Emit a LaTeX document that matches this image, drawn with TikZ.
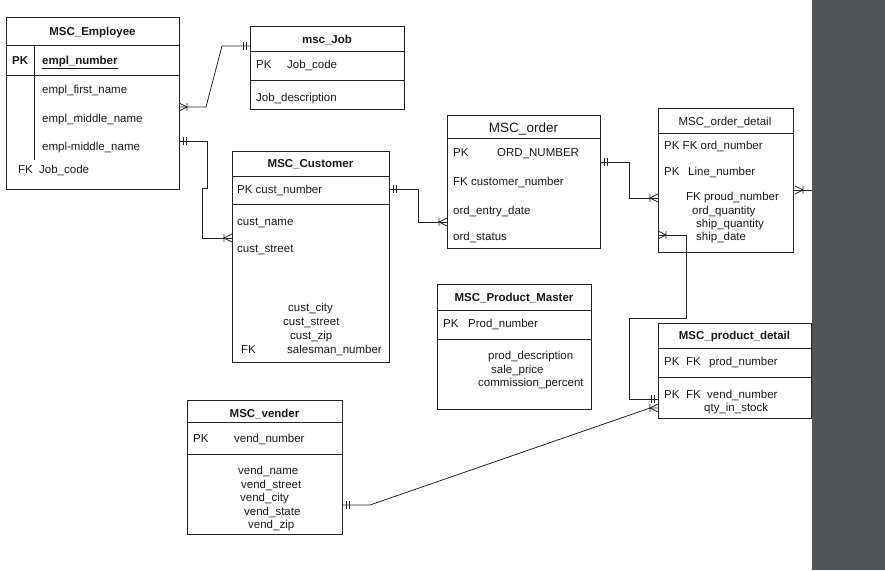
\documentclass[tikz,border=0pt]{standalone}
\usepackage{fontspec}
\setmainfont{Liberation Sans}
\definecolor{lc}{RGB}{35,35,35}
\definecolor{tc}{RGB}{25,25,25}
\definecolor{panel}{RGB}{82,86,89}
\begin{document}
\begin{tikzpicture}[x=1pt,y=-1pt,
  ent/.style={draw=lc, line width=0.9pt, inner sep=0pt, outer sep=0pt, anchor=north west},
  sepl/.style={draw=lc, line width=0.9pt},
  conn/.style={draw=lc, line width=0.8pt},
  txt/.style={anchor=base west, inner sep=0pt, font=\fontsize{11.5}{13}\selectfont, text=tc},
  ttl/.style={anchor=base, inner sep=0pt, font=\fontsize{11.5}{13}\selectfont\bfseries, text=tc},
  ttlr/.style={anchor=base, inner sep=0pt, font=\fontsize{11.5}{13}\selectfont, text=tc},
  ttlbig/.style={anchor=base, inner sep=0pt, font=\fontsize{13.5}{15}\selectfont, text=tc},
  manyR/.pic={\draw[conn] (0,-4)--(8,0)--(0,4) (8,-4)--(8,4);},
  manyL/.pic={\draw[conn] (0,-4)--(-8,0)--(0,4) (-8,-4)--(-8,4);},
  oneR/.pic={\draw[conn] (4,-4)--(4,4) (7,-4)--(7,4);},
  oneL/.pic={\draw[conn] (-4,-4)--(-4,4) (-7,-4)--(-7,4);}
]
\useasboundingbox (0,0) rectangle (885,570);
\fill[white] (0,0) rectangle (885,570);
\fill[panel] (812,0) rectangle (885,570);

% ---------- MSC_Employee ----------
\node[ent, minimum width=173pt, minimum height=172pt] (emp) at (6,17) {};
\draw[sepl] (emp.west |- 0,45) -- (emp.east |- 0,45);
\draw[sepl] (emp.west |- 0,75) -- (emp.east |- 0,75);
\draw[sepl] (34,45) -- (34,160);
\node[ttl] (empT) at (92.5,35) {MSC\_Employee};
\node[txt, font=\fontsize{11.5}{13}\selectfont\bfseries] (empPK) at (12,64) {PK};
\node[txt, font=\fontsize{11.5}{13}\selectfont\bfseries] (empA0) at (42,64) {\underline{empl\_number}};
\node[txt] (empA1) at (42,93) {empl\_first\_name};
\node[txt] (empA2) at (42,122) {empl\_middle\_name};
\node[txt] (empA3) at (42,150) {empl-middle\_name};
\node[txt] (empFK) at (18,173) {FK};
\node[txt] (empA4) at (39,173) {Job\_code};

% ---------- msc_Job ----------
\node[ent, minimum width=154pt, minimum height=83pt] (job) at (250,26) {};
\draw[sepl] (job.west |- 0,51) -- (job.east |- 0,51);
\draw[sepl] (job.west |- 0,80) -- (job.east |- 0,80);
\node[ttl] (jobT) at (327,43) {msc\_Job};
\node[txt] (jobPK) at (256,68) {PK};
\node[txt] (jobA0) at (287,68) {Job\_code};
\node[txt] (jobA1) at (256,101) {Job\_description};

% ---------- MSC_Customer ----------
\node[ent, minimum width=157pt, minimum height=211pt] (cus) at (232,151) {};
\draw[sepl] (cus.west |- 0,176) -- (cus.east |- 0,176);
\draw[sepl] (cus.west |- 0,204) -- (cus.east |- 0,204);
\node[ttl] (cusT) at (310.5,167) {MSC\_Customer};
\node[txt] (cusA0) at (237,193) {PK cust\_number};
\node[txt] (cusA1) at (237,225) {cust\_name};
\node[txt] (cusA2) at (237,252) {cust\_street};
\node[txt] (cusA3) at (288,311) {cust\_city};
\node[txt] (cusA4) at (283,325) {cust\_street};
\node[txt] (cusA5) at (290,339) {cust\_zip};
\node[txt] (cusFK) at (241,353) {FK};
\node[txt] (cusA6) at (287,353) {salesman\_number};

% ---------- MSC_order ----------
\node[ent, minimum width=153pt, minimum height=133pt] (ord) at (447,115) {};
\draw[sepl] (ord.west |- 0,138) -- (ord.east |- 0,138);
\node[ttlbig] (ordT) at (523.5,132) {MSC\_order};
\node[txt] (ordPK) at (453,156) {PK};
\node[txt] (ordA0) at (497,156) {ORD\_NUMBER};
\node[txt] (ordA1) at (453,185) {FK customer\_number};
\node[txt] (ordA2) at (453,214) {ord\_entry\_date};
\node[txt] (ordA3) at (453,240) {ord\_status};

% ---------- MSC_order_detail ----------
\node[ent, minimum width=135pt, minimum height=144pt] (odt) at (658,108) {};
\draw[sepl] (odt.west |- 0,133) -- (odt.east |- 0,133);
\node[ttlr] (odtT) at (725,125) {MSC\_order\_detail};
\node[txt] (odtA0) at (664,149) {PK FK ord\_number};
\node[txt] (odtPK) at (664,175) {PK};
\node[txt] (odtA1) at (688,175) {Line\_number};
\node[txt] (odtA2) at (686,200) {FK proud\_number};
\node[txt] (odtA3) at (692,214) {ord\_quantity};
\node[txt] (odtA4) at (696,227) {ship\_quantity};
\node[txt] (odtA5) at (696,240) {ship\_date};

% ---------- MSC_Product_Master ----------
\node[ent, minimum width=154pt, minimum height=125pt] (pm) at (437,284) {};
\draw[sepl] (pm.west |- 0,310) -- (pm.east |- 0,310);
\draw[sepl] (pm.west |- 0,339) -- (pm.east |- 0,339);
\node[ttl] (pmT) at (514,301) {MSC\_Product\_Master};
\node[txt] (pmPK) at (443,327) {PK};
\node[txt] (pmA0) at (468,327) {Prod\_number};
\node[txt] (pmA1) at (488,359) {prod\_description};
\node[txt] (pmA2) at (491,373) {sale\_price};
\node[txt] (pmA3) at (478,386) {commission\_percent};

% ---------- MSC_product_detail ----------
\node[ent, minimum width=153pt, minimum height=95pt] (pd) at (658,323) {};
\draw[sepl] (pd.west |- 0,348) -- (pd.east |- 0,348);
\draw[sepl] (pd.west |- 0,377) -- (pd.east |- 0,377);
\node[ttl] (pdT) at (734.5,339) {MSC\_product\_detail};
\node[txt] (pdPK1) at (664,365) {PK};
\node[txt] (pdFK1) at (686,365) {FK};
\node[txt] (pdA0) at (709,365) {prod\_number};
\node[txt] (pdPK2) at (664,398) {PK};
\node[txt] (pdFK2) at (686,398) {FK};
\node[txt] (pdA1) at (707,398) {vend\_number};
\node[txt] (pdA2) at (704,411) {qty\_in\_stock};

% ---------- MSC_vender ----------
\node[ent, minimum width=155pt, minimum height=134pt] (ven) at (187,400) {};
\draw[sepl] (ven.west |- 0,422) -- (ven.east |- 0,422);
\draw[sepl] (ven.west |- 0,454) -- (ven.east |- 0,454);
\node[ttl] (venT) at (264.5,417) {MSC\_vender};
\node[txt] (venPK) at (193,442) {PK};
\node[txt] (venA0) at (234,442) {vend\_number};
\node[txt] (venA1) at (238,474) {vend\_name};
\node[txt] (venA2) at (241,488) {vend\_street};
\node[txt] (venA3) at (240,501) {vend\_city};
\node[txt] (venA4) at (244,515) {vend\_state};
\node[txt] (venA5) at (248,528) {vend\_zip};

% ---------- connector end points ----------
\coordinate (c1a) at (emp.east |- 0,107);
\coordinate (c1b) at (job.west |- 0,46);
\coordinate (c2a) at (emp.east |- 0,141);
\coordinate (c2b) at (cus.west |- 0,238);
\coordinate (c3a) at (cus.east |- 0,189);
\coordinate (c3b) at (ord.west |- 0,222);
\coordinate (c4a) at (ord.east |- 0,162);
\coordinate (c4b) at (odt.west |- 0,198);
\coordinate (c5a) at (odt.west |- 0,235);
\coordinate (c5b) at (pd.west |- 0,399);
\coordinate (c6a) at (ven.east |- 0,505);
\coordinate (c6b) at (pd.west |- 0,408);
\coordinate (c7a) at (odt.east |- 0,190);
\coordinate (c7b) at (812,190);

% ---------- connectors ----------
\draw[conn] (c1a) -- (206,107) -- (222,46) -- (c1b);
\pic at (c1a) {manyR}; \pic at (c1b) {oneL};

\draw[conn] (c2a) -- (207,141) -- (207,188) -- (202,188) -- (202,238) -- (c2b);
\pic at (c2a) {oneR}; \pic at (c2b) {manyL};

\draw[conn] (c3a) -- (418,189) -- (418,222) -- (c3b);
\pic at (c3a) {oneR}; \pic at (c3b) {manyL};

\draw[conn] (c4a) -- (629,162) -- (629,198) -- (c4b);
\pic at (c4a) {oneR}; \pic at (c4b) {manyL};

\draw[conn] (c5a) -- (686,235) -- (686,318) -- (629,318) -- (629,399) -- (c5b);
\pic at (c5a) {manyR}; \pic at (c5b) {oneL};

\draw[conn] (c6a) -- (370,505) -- (650,408) -- (c6b);
\pic at (c6a) {oneR}; \pic at (c6b) {manyL};

\draw[conn] (c7a) -- (c7b);
\pic at ([xshift=2pt]c7a) {manyR};
\end{tikzpicture}
\end{document}
